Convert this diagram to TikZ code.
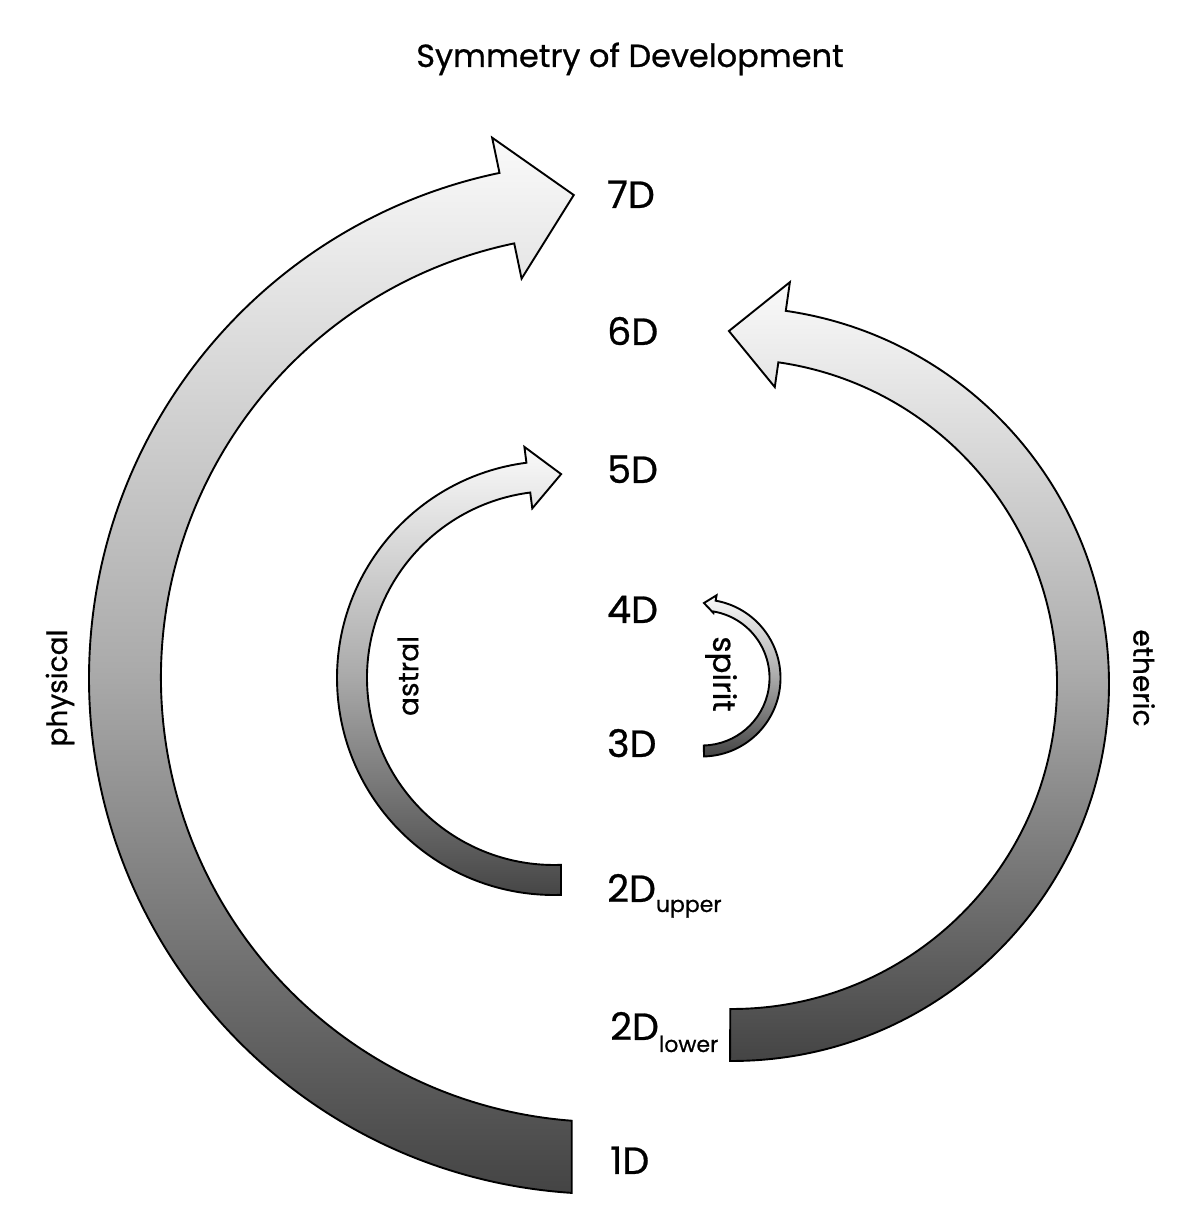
\documentclass[tikz,border=0pt]{standalone}
\usepackage{fontspec}
\setmainfont{Poppins}[FakeBold=0.7]
\definecolor{shTop}{HTML}{FAFAFA}
\definecolor{shMid}{HTML}{ABABAB}
\definecolor{shBot}{HTML}{444444}
\begin{document}
\begin{tikzpicture}[x=1pt,y=1pt,
  arrowshape/.style={draw=black, line width=1.9pt, line join=miter,
    top color=shTop, bottom color=shBot, middle color=shMid},
  dlabel/.style={anchor=base west, inner sep=0pt, font=\fontsize{38}{40}\selectfont},
  sidelabel/.style={inner sep=0pt, font=\fontsize{28}{30}\selectfont}]
\useasboundingbox (0,0) rectangle (1202,1216);

% physical
\draw[arrowshape, shift={(605,538)}]
  (266.3:516) arc[start angle=266.3, end angle=101.8, radius=516]
  -- (101.8:552) -- (93.7:484) -- (101.8:408) -- (101.8:444)
  arc[start angle=101.8, end angle=265.7, radius=444] -- cycle;

% etheric
\draw[arrowshape, shift={(732,532)}]
  (-90.3:377) arc[start angle=-90.3, end angle=81.8, radius=377]
  -- (81.8:406) -- (90.5:353) -- (81.8:300) -- (81.8:325)
  arc[start angle=81.8, end angle=-90.3, radius=325] -- cycle;

% astral
\draw[arrowshape, shift={(554,538)}]
  (271.85:217) arc[start angle=271.85, end angle=97.3, radius=217]
  -- (97.3:233) -- (88:204) -- (97.3:171) -- (97.3:187)
  arc[start angle=97.3, end angle=272.15, radius=187] -- cycle;

% spirit
\draw[arrowshape, shift={(702,538)}]
  (-88.5:78.5) arc[start angle=-88.5, end angle=80, radius=78.5]
  -- (80:84) -- (88.5:75) -- (80:66) -- (80:67.5)
  arc[start angle=80, end angle=-88.5, radius=67.5] -- cycle;

\node[font=\fontsize{32}{34}\selectfont, anchor=base, inner sep=0pt] (title) at (630,1149) {Symmetry of Development};

\node[dlabel] (d7) at (607,1008) {7D};
\node[dlabel] (d6) at (607,871) {6D};
\node[dlabel] (d5) at (607,733) {5D};
\node[dlabel] (d4) at (607,593) {4D};
\node[dlabel] (d3) at (607,459) {3D};
\node[dlabel] (d2u) at (607,314) {2D\raisebox{-10pt}{\fontsize{22}{24}\selectfont upper}};
\node[dlabel] (d2l) at (610,176) {2D\raisebox{-12pt}{\fontsize{22}{24}\selectfont lower}};
\node[dlabel] (d1) at (610,42) {1D};

\node[sidelabel, rotate=90] (physical) at (60,528) {physical};
\node[sidelabel, rotate=-90] (etheric) at (1144,538) {etheric};
\node[sidelabel, rotate=90] (astral) at (408,540) {astral};
\node[sidelabel, rotate=-90, font=\fontsize{31}{33}\selectfont] (spirit) at (721,542) {spirit};
\end{tikzpicture}
\end{document}
